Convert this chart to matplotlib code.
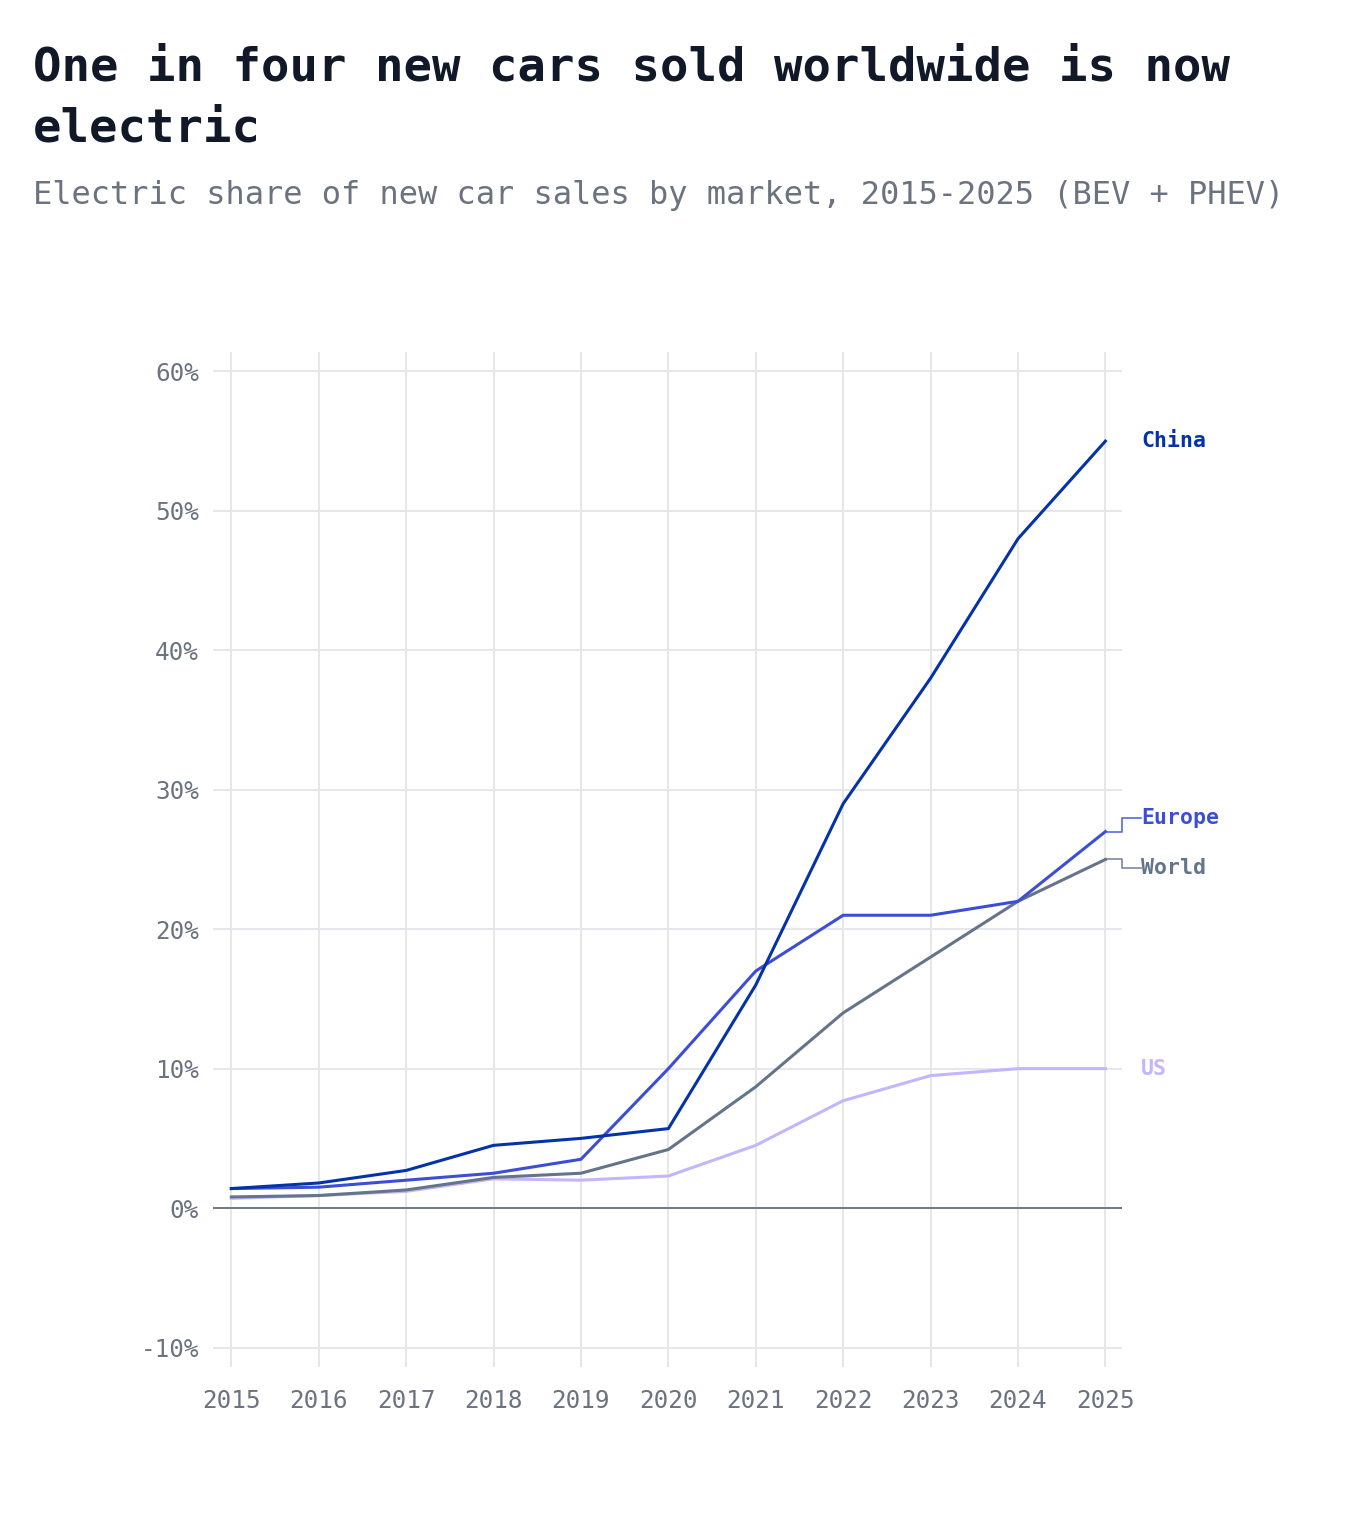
import matplotlib
matplotlib.use("Agg")
import matplotlib.pyplot as plt
from matplotlib.ticker import FuncFormatter

years = [2015, 2016, 2017, 2018, 2019, 2020, 2021, 2022, 2023, 2024, 2025]
china = [1.4, 1.8, 2.7, 4.5, 5.0, 5.7, 16, 29, 38, 48, 55]
europe = [1.4, 1.5, 2.0, 2.5, 3.5, 10, 17, 21, 21, 22, 27]
world = [0.8, 0.9, 1.3, 2.2, 2.5, 4.2, 8.7, 14, 18, 22, 25]
us = [0.7, 0.9, 1.2, 2.1, 2.0, 2.3, 4.5, 7.7, 9.5, 10, 10]

series = [("US", us, "#c4b5fd"), ("World", world, "#64748b"),
          ("Europe", europe, "#3d4ed6"), ("China", china, "#0432a8")]
# label y positions (nudged where labels would collide)
label_y = {"China": 55, "Europe": 28.0, "World": 24.4, "US": 9.95}

mono = "DejaVu Sans Mono"
plt.rcParams['font.family'] = [mono]

fig = plt.figure(figsize=(13.6, 15.3), dpi=100)
ax = fig.add_axes([0.1566, 0.1065, 0.825 - 0.1566, 0.770 - 0.1065])

for name, vals, col in series:
    ax.plot(years, vals, color=col, lw=2.2, solid_joinstyle="round", zorder=3)

ax.axhline(0, color="#6b6f7a", lw=1.3, zorder=2)

ax.set_xlim(2014.79, 2025.19)
ax.set_ylim(-11.4, 61.4)
ax.set_xticks(years)
ax.set_yticks([-10, 0, 10, 20, 30, 40, 50, 60])
ax.yaxis.set_major_formatter(FuncFormatter(lambda v, p: f"{v:.0f}%"))
ax.grid(True, color="#e6e7ea", lw=1.4, zorder=0)
ax.set_axisbelow(True)
for s in ax.spines.values():
    s.set_visible(False)
ax.tick_params(axis="both", length=0, labelsize=17.5, labelcolor="#6b7280")
ax.tick_params(axis="y", pad=10)
ax.tick_params(axis="x", pad=16)

x_end = years[-1]
x_edge = 2025.19
x_lab = 2025.41
for name, vals, col in series:
    ly = label_y[name]
    y_end = vals[-1]
    if name in ("Europe", "World"):
        ax.plot([x_end, x_edge, x_edge, x_lab], [y_end, y_end, ly, ly],
                color=col, lw=1.2, alpha=0.85, clip_on=False, zorder=3)
    ax.text(x_lab, ly, name, color=col, fontsize=15.5, fontweight="bold",
            ha="left", va="center", clip_on=False)

fig.text(0.024, 0.970, "One in four new cars sold worldwide is now\nelectric",
         fontsize=34, fontweight="bold", color="#111827", va="top", ha="left",
         linespacing=1.45)
fig.text(0.024, 0.872, "Electric share of new car sales by market, 2015-2025 (BEV + PHEV)",
         fontsize=23, color="#6b7280", va="center", ha="left")

fig.savefig("out.png", dpi=100, facecolor="white")
